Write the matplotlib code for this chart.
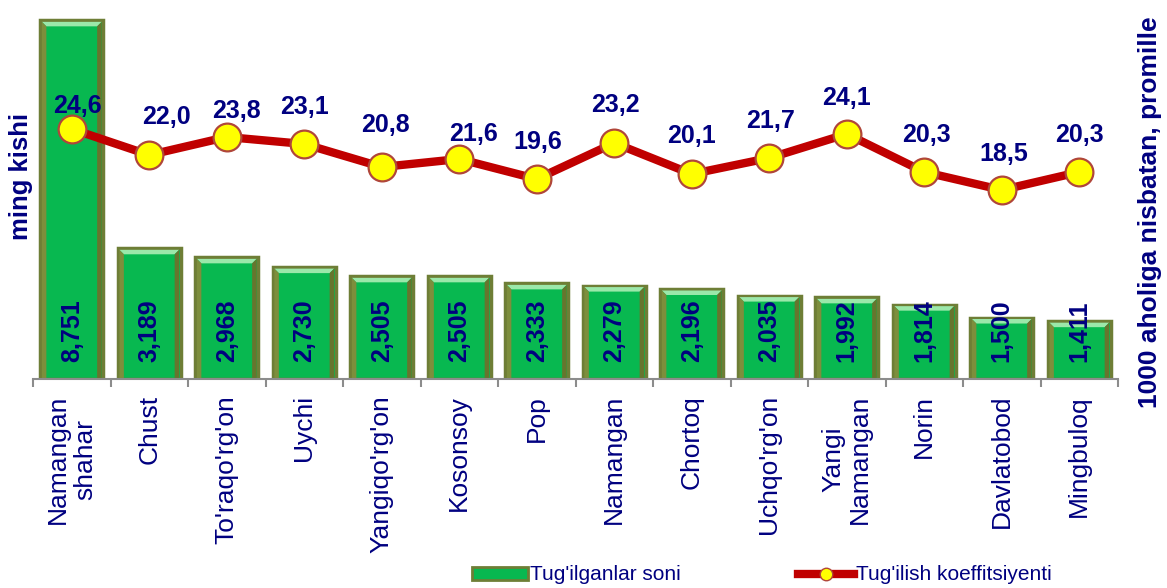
import matplotlib
matplotlib.use("Agg")
import matplotlib.pyplot as plt
from matplotlib.patches import Patch, Polygon
from matplotlib.lines import Line2D
from matplotlib.transforms import IdentityTransform
import numpy as np

plt.rcParams['font.family'] = ['Liberation Sans', 'DejaVu Sans']

categories = ["Namangan\nshahar", "Chust", "To'raqo'rg'on", "Uychi", "Yangiqo'rg'on",
              "Kosonsoy", "Pop", "Namangan", "Chortoq", "Uchqo'rg'on",
              "Yangi\nNamangan", "Norin", "Davlatobod", "Mingbuloq"]
births = [8.751, 3.189, 2.968, 2.730, 2.505, 2.505, 2.333, 2.279, 2.196, 2.035,
          1.992, 1.814, 1.500, 1.411]
rates = [24.6, 22.0, 23.8, 23.1, 20.8, 21.6, 19.6, 23.2, 20.1, 21.7, 24.1, 20.3, 18.5, 20.3]
rate_labels = ["24,6", "22,0", "23,8", "23,1", "20,8", "21,6", "19,6", "23,2", "20,1",
               "21,7", "24,1", "20,3", "18,5", "20,3"]
birth_labels = ["8,751", "3,189", "2,968", "2,730", "2,505", "2,505", "2,333", "2,279",
                "2,196", "2,035", "1,992", "1,814", "1,500", "1,411"]
legend_labels = ["Tug'ilganlar soni", "Tug'ilish koeffitsiyenti"]
ylabel_left = "ming kishi"
ylabel_right = "1000 aholiga nisbatan, promille"

# label offsets (pixels) relative to markers
label_offsets_px = [(6, 23), (17, 38), (10, 26), (0, 37), (4, 42), (14, 25), (1, 37),
                    (1, 38), (0, 38), (1, 37), (0, 36), (2, 37), (2, 36), (0, 37)]

NAVY = '#000080'
GREEN = '#08B850'
OLIVE = '#6E7E36'
W, H = 1167, 588
fig = plt.figure(figsize=(W / 100, H / 100), dpi=100)
ax = fig.add_axes([33 / W, 1 - 379 / H, (1118 - 33) / W, (379 - 4) / H])
ax2 = ax.twinx()

x = np.arange(len(categories))
bars = ax.bar(x, births, width=0.81, color=GREEN, edgecolor=OLIVE,
              linewidth=2.5, zorder=2)

ax.set_xlim(-0.5, len(categories) - 0.5)
ax.set_ylim(0, 9.15)
ax2.set_ylim(-0.4, 37.1)

# bevel highlights drawn in display coordinates from the bar geometry
fig.canvas.draw()
for b in bars:
    (x0, y0), (x1, y1) = ax.transData.transform([(b.get_x(), 0),
                                                 (b.get_x() + b.get_width(), b.get_height())])
    d = 6
    e = 1.5
    top = Polygon([(x0 + e, y1 - e), (x1 - e, y1 - e), (x1 - d, y1 - d), (x0 + d, y1 - d)],
                  closed=True, transform=IdentityTransform(), facecolor='#9BE8AA',
                  edgecolor='none', zorder=2.5)
    left = Polygon([(x0 + e, y1 - e), (x0 + d, y1 - d), (x0 + d, y0 + 1), (x0 + e, y0 + 1)],
                   closed=True, transform=IdentityTransform(), facecolor='#7D8E3C',
                   edgecolor='none', zorder=2.5)
    right = Polygon([(x1 - e, y1 - e), (x1 - d, y1 - d), (x1 - d, y0 + 1), (x1 - e, y0 + 1)],
                    closed=True, transform=IdentityTransform(), facecolor='#66752E',
                    edgecolor='none', zorder=2.5)
    for p in (top, left, right):
        ax.add_patch(p)

for xi, lab in zip(x, birth_labels):
    ax.annotate(lab, (xi, 0), xytext=(0, 12.2), textcoords='offset points',
                rotation=90, ha='center', va='bottom', fontsize=18,
                fontweight='bold', color=NAVY, zorder=4)

ax2.plot(x, rates, color='#C00000', linewidth=6, marker='o', markersize=20,
         markerfacecolor='#FFFF00', markeredgecolor='#B0463A', markeredgewidth=1.6,
         zorder=5)
for xi, r, lab, (dx, dy) in zip(x, rates, rate_labels, label_offsets_px):
    ax2.annotate(lab, (xi, r), xytext=(dx * 0.72, dy * 0.72), textcoords='offset points',
                 ha='center', va='center', fontsize=18, fontweight='bold', color=NAVY,
                 zorder=6)

for a in (ax, ax2):
    for s in ('top', 'left', 'right'):
        a.spines[s].set_visible(False)
ax2.spines['bottom'].set_visible(False)
ax.spines['bottom'].set_color('#8C8C8C')
ax.spines['bottom'].set_linewidth(1.5)

ax.set_yticks([])
ax2.set_yticks([])
ax.set_xticks(x)
ax.set_xticklabels(categories, rotation=90, fontsize=19, color=NAVY,
                   ha='center', va='top', multialignment='center', linespacing=1.15)
ax.tick_params(axis='x', which='major', length=0, pad=11.5)
ax.set_xticks(np.arange(-0.5, len(categories)), minor=True)
ax.tick_params(axis='x', which='minor', length=6, width=1.5, color='#8C8C8C')

fig.text(21 / W, 1 - 176 / H, ylabel_left, rotation=90, ha='center', va='center',
         fontsize=18.5, fontweight='bold', color=NAVY)
fig.text(1150 / W, 1 - 212 / H, ylabel_right, rotation=90, ha='center', va='center',
         fontsize=19, fontweight='bold', color=NAVY)

handles = [Patch(facecolor=GREEN, edgecolor=OLIVE, linewidth=2),
           Line2D([0], [0], color='#C00000', linewidth=6, marker='o', markersize=9,
                  markerfacecolor='#FFFF00', markeredgecolor='#B0463A')]
fig.legend(handles, legend_labels, loc='center', bbox_to_anchor=(762 / W, 1 - 575 / H),
           ncol=2, frameon=False, fontsize=15, labelcolor=NAVY, handlelength=2.7,
           handleheight=0.6, handletextpad=0.1, columnspacing=5.6)

fig.savefig('out.png', dpi=100)
